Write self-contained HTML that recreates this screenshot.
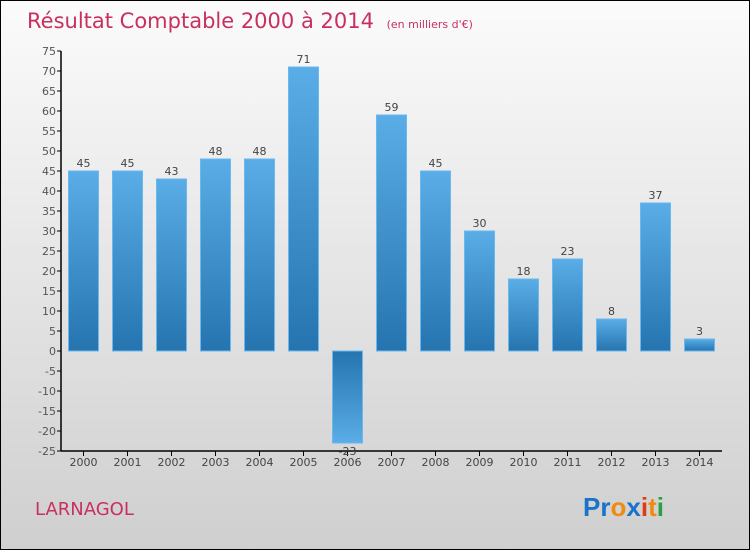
<!DOCTYPE html>
<html><head><meta charset="utf-8"><style>
body{margin:0}
#c{width:748px;height:548px;border:1px solid #000;background:linear-gradient(#fbfbfb,#cfcfcf);position:relative;font-family:"DejaVu Sans","Liberation Sans",sans-serif}
</style></head><body>
<div id="c">
<svg width="748" height="548">
<defs>
<linearGradient id="gp" x1="0" y1="0" x2="0" y2="1"><stop offset="0" stop-color="#5aade6"/><stop offset="1" stop-color="#2574b0"/></linearGradient>
<linearGradient id="gn" x1="0" y1="0" x2="0" y2="1"><stop offset="0" stop-color="#2574b0"/><stop offset="1" stop-color="#5aade6"/></linearGradient>
</defs>
<text x="26" y="27" font-size="21" fill="#c8305f">Résultat Comptable 2000 à 2014 <tspan font-size="11" dx="6">(en milliers d'€)</tspan></text>
<g id="plot"></g>
<text x="34" y="514" font-size="18" fill="#c8305f">LARNAGOL</text>
<text x="582" y="515" font-size="26" font-weight="bold" font-family="Liberation Sans,sans-serif"><tspan fill="#1a73c8">Pr</tspan><tspan fill="#f08a10">o</tspan><tspan fill="#1a73c8">x</tspan><tspan fill="#e03a10">i</tspan><tspan fill="#f08a10">t</tspan><tspan fill="#2aa040">i</tspan></text>
</svg></div>
<script>
const years=["2000","2001","2002","2003","2004","2005","2006","2007","2008","2009","2010","2011","2012","2013","2014"];
const values=[45,45,43,48,48,71,-23,59,45,30,18,23,8,37,3];
const yTicks=[75,70,65,60,55,50,45,40,35,30,25,20,15,10,5,0,-5,-10,-15,-20,-25];
const ns="http://www.w3.org/2000/svg";
const g=document.getElementById('plot');
const y=v=>350-(v)*4, x=i=>82.5+i*44;
function mk(t,a){const e=document.createElementNS(ns,t);for(const k in a)e.setAttribute(k,a[k]);g.appendChild(e);return e;}
let ax=mk('line',{x1:60,y1:50,x2:60,y2:450,stroke:'#000','stroke-width':1.5});

let bx=mk('line',{x1:60,y1:450,x2:721,y2:450,stroke:'#000','stroke-width':1.5});

yTicks.forEach(v=>{
 const l=mk('line',{x1:56,x2:60,y1:y(v),y2:y(v),stroke:'#000'});
 
 const t=mk('text',{x:55,y:y(v)+4,'text-anchor':'end','font-size':11,fill:'#555'});t.textContent=v;
 
});
years.forEach((yr,i)=>{
 const v=values[i],cx=x(i);
 const l=mk('line',{x1:cx,x2:cx,y1:450,y2:455,stroke:'#000'});
 
 const t=mk('text',{x:cx,y:465,'text-anchor':'middle','font-size':11,fill:'#444'});t.textContent=yr;
 
 const top=Math.min(y(v),y(0)),h=Math.abs(y(v)-y(0));
 const r=mk('rect',{x:cx-15,y:top,width:30,height:h,fill:v>=0?'url(#gp)':'url(#gn)',stroke:'#6ab8ec','stroke-width':1});
 
 const vt=mk('text',{x:cx,y:v>=0?y(v)-4:y(v)+12,'text-anchor':'middle','font-size':11,fill:'#444'});vt.textContent=v;
 
});
</script>
</body></html>
